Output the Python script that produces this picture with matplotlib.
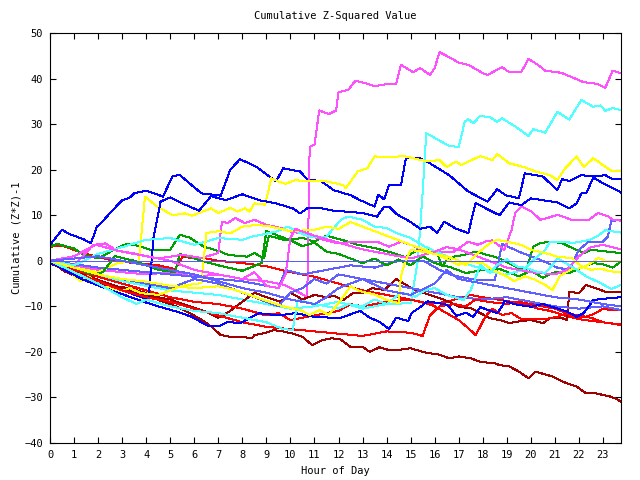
import matplotlib
matplotlib.use("Agg")
import matplotlib.pyplot as plt

# each series: (hour, cumulative value) vertices
mag1 = [(0, 0), (1, -1), (2, -2), (3, -2.5), (4, -3), (5, -2.5), (6, -3.5), (7, -3), (8, -4),
        (9, -4.5), (9.75, -5.3), (10.7, -7.9), (10.8, 25), (11.0, 25.5), (11.2, 33), (11.6, 32.2),
        (11.9, 33), (12.0, 37), (12.4, 37.5), (12.7, 39.5), (13.1, 39), (13.5, 38.3), (14.0, 38.8),
        (14.4, 38.9), (14.6, 43), (15.1, 41.4), (15.4, 42.3), (15.8, 40.8), (16.0, 42.3), (16.2, 45.8),
        (16.6, 44.7), (17.0, 43.5), (17.4, 43), (18.0, 41.2), (18.2, 40.8), (18.8, 42.5), (19.1, 41.4),
        (19.6, 41.4), (19.9, 44.3), (20.3, 43), (20.6, 41.7), (21.1, 41.4), (21.3, 41.2), (21.8, 40.1),
        (22.2, 39.2), (22.6, 39), (22.8, 38.7), (23.1, 38), (23.4, 41.7), (23.75, 41.2)]
cyan1 = [(0, 0), (1, -1.5), (2, -3), (3, -4.5), (4, -5.5), (5, -6.5), (6, -7), (7, -7.5), (8, -8.5),
         (9, -9.5), (10, -10.5), (11, -10), (12, -9), (13, -10.5), (14, -9.5), (15.0, -9.3), (15.3, 0),
         (15.5, 15), (15.65, 28), (16.6, 25.2), (17.0, 25), (17.25, 30.5), (17.4, 31.1), (17.6, 30.2),
         (17.9, 31.8), (18.3, 31.5), (18.6, 30.5), (18.8, 31.3), (19.4, 29.3), (19.9, 27.4), (20.1, 28.9),
         (20.6, 28.1), (21.1, 32.7), (21.6, 31), (22.1, 35.3), (22.6, 33.8), (22.9, 34.1), (23.1, 32.9),
         (23.4, 33.5), (23.75, 33.1)]
yel1 = [(0, 0), (1, -1.5), (2, -2.5), (2.8, -0.5), (3.7, 0), (3.95, 14.1), (4.4, 12.1), (5.1, 10),
        (5.6, 10.4), (5.9, 9.9), (6.7, 11.5), (7.0, 10.5), (7.5, 11.6), (7.8, 10.8), (8.1, 11.5),
        (8.3, 10.8), (8.5, 12.6), (8.95, 12.3), (9.2, 18.1), (9.5, 17.4), (9.8, 16.9), (10.2, 17.7),
        (10.6, 17.5), (11.4, 17.5), (11.9, 17), (12.2, 16.6), (12.3, 15.9), (12.8, 19.6), (13.2, 20.3),
        (13.5, 22.9), (14.3, 22.8), (14.7, 23), (15.7, 21.8), (16.2, 22.1), (16.5, 20.6), (16.9, 21.8),
        (17.1, 21), (17.9, 23), (18.4, 22.1), (18.6, 23.4), (19.1, 21.4), (19.7, 20.6), (20.2, 19.6),
        (20.8, 18.8), (21.1, 17.7), (21.4, 20.1), (21.9, 22.9), (22.2, 20.6), (22.6, 22.5), (23.0, 21),
        (23.4, 19.6), (23.75, 19.6)]
blue1 = [(0, 3.5), (0.5, 6.8), (0.8, 5.9), (1.4, 4.7), (1.7, 3.8), (1.95, 7.5), (2.15, 8.4), (2.5, 10.5),
         (3.0, 13.3), (3.3, 13.8), (3.5, 14.8), (4.0, 15.4), (4.7, 14.1), (5.1, 18.6), (5.4, 18.8),
         (6.3, 14.8), (7.1, 14.3), (7.5, 20), (7.9, 22.3), (8.6, 20.6), (9.4, 17.4), (9.7, 20.3),
         (10.4, 19.6), (10.7, 17.9), (11.3, 17.4), (11.8, 15.5), (12.5, 14.4), (12.9, 13.3), (13.5, 11.9),
         (13.65, 14.5), (13.9, 13.5), (14.1, 16.6), (14.6, 16.6), (14.8, 22.5), (15.4, 22.5), (15.8, 21.4),
         (16.6, 18.8), (17.4, 15.2), (18.2, 13), (18.6, 15.7), (18.95, 14.4), (19.5, 13.7), (19.75, 19.2),
         (20.5, 18.5), (21.1, 15.5), (21.3, 17.9), (21.6, 17.5), (22.1, 18.8), (22.6, 18.5), (23.1, 18.8),
         (23.4, 17.9), (23.75, 17.9)]
blue2 = [(0, -0.5), (1, -3), (2, -5), (3, -6.5), (4.1, -8.5), (4.3, 5), (4.45, 9), (4.6, 13), (5.0, 13.9),
         (5.5, 12.6), (6.2, 11), (6.7, 14.2), (7.3, 13.3), (8.0, 14.6), (8.7, 13.3), (9.4, 12.6),
         (10.1, 11.5), (10.4, 10.4), (10.7, 11.5), (11.3, 11.5), (11.8, 11), (13.0, 10.5), (13.6, 9.7),
         (13.9, 11.9), (14.1, 11.9), (14.4, 10.3), (15.0, 8.5), (15.4, 7), (15.8, 7.5), (16.1, 6.1),
         (16.4, 8.6), (16.9, 7), (17.4, 6.1), (17.7, 12.7), (18.2, 11.3), (18.7, 10), (19.1, 12.8),
         (19.6, 12.2), (20.0, 13.7), (20.5, 13.3), (21.1, 12.8), (21.6, 11.5), (21.9, 12.6), (22.1, 14.8),
         (22.3, 14.8), (22.6, 18.3), (23.0, 17), (23.75, 15)]
blue3 = [(0, 0), (0.6, -2), (1.4, -4.2), (2.5, -6.4), (3.9, -9), (4.5, -10), (5.3, -11.2), (5.9, -12.3),
         (6.6, -14.4), (7.0, -14.4), (7.4, -13.4), (7.9, -13.7), (8.3, -12.6), (8.7, -11.5), (9.5, -12),
         (10.2, -11.5), (11, -12.3), (11.7, -12.5), (12.1, -12.5), (12.9, -11), (13.3, -12.5),
         (13.7, -13.4), (14.1, -15), (14.4, -12.5), (14.9, -13.2), (15.05, -11.4), (15.4, -10.2),
         (15.7, -8.9), (16.4, -9.5), (16.6, -10), (16.9, -12.1), (17.3, -11.4), (17.6, -12.3),
         (17.9, -10.2), (18.6, -11.5), (18.8, -10), (18.9, -8.8), (19.3, -9.5), (20.0, -10.1),
         (20.5, -9.5), (21.3, -10.8), (21.6, -11.4), (21.9, -12.3), (22.2, -11.5), (22.6, -8.6),
         (23.3, -8.2), (23.75, -8)]
mag2 = [(0, 0), (1, -1), (1.8, 3.5), (2.3, 3.8), (2.8, 2.2), (3.4, 1.7), (4.5, 0.5), (5.5, 1.3),
        (6.3, 0.6), (7.0, 1.7), (7.15, 8.6), (7.4, 8.3), (7.7, 9.4), (8.1, 8.3), (8.5, 9), (9.0, 7.9),
        (9.6, 7.2), (10.0, 6.4), (10.4, 6.1), (10.9, 5.3), (11.9, 3.9), (13.2, 4.2), (13.6, 4.2),
        (14.1, 3.1), (14.6, 4.2), (15.2, 3.1), (15.7, 1.7), (16.8, 2), (17.4, 4.2), (17.8, 3.5),
        (18.1, 4.2), (18.4, 4.5), (18.9, 2.4), (19.2, 6.8), (19.35, 10.5), (19.6, 11.9), (20.0, 10.9),
        (20.4, 9), (20.7, 9.4), (21.1, 10.1), (21.7, 9), (22.4, 8.9), (22.8, 10.5), (23.2, 9.8),
        (23.4, 9), (23.75, 8.8)]
mag3 = [(0, 0), (1, 1), (1.9, 3.5), (3, 2), (4, 1), (5, 0), (6, -2), (7, -3), (8, -4), (8.5, -2.5),
        (9, -5.5), (9.5, -6), (9.8, -3), (10.0, 5), (10.2, 7), (11, 5.5), (12, 4), (13, 2.5), (14, 1.5),
        (15, 0.5), (16, 2), (16.5, 3), (17, 2.5), (18, 0.5), (18.5, -0.5), (19, -1.5), (20, -2.5),
        (21, -3), (21.5, -2), (22, 1), (22.5, 3), (23, 3.5), (23.75, 2.5)]
slate1 = [(0, 0), (2, -1.5), (4, -2.5), (6, -3.5), (8, -4.5), (9.5, -6), (9.8, -2), (10.5, -3),
          (11.5, -2), (12.5, -1), (13.5, -1.5), (14.5, 0), (15.5, 0), (15.7, -0.5), (16.2, -2),
          (16.7, -3.1), (17.3, -3.8), (17.8, -4.2), (18.5, -4.2), (18.8, 3.7), (19.5, 2), (20.4, 0.2),
          (21.1, -1.5), (21.6, -2), (22.0, 2.4), (22.4, 4.2), (23.0, 4.2), (23.2, 5.3), (23.35, 8.8),
          (23.75, 8.9)]
slate2 = [(0, 0), (1, -1.5), (2, -3), (3, -4), (4, -5), (5, -6), (6, -4), (7, -5), (8, -7), (9, -9),
          (9.5, -10), (10, -7), (10.5, -6), (11, -4), (11.5, -5), (12, -3), (13, -4), (14, -5), (15, -6),
          (16, -7), (17, -8), (18, -8.5), (19, -8), (20, -9), (21, -10), (22, -10.5), (23, -10),
          (23.75, -10.8)]
slate3 = [(0, 0), (1, 0.5), (2, 1), (3, 0), (4, -1), (5, -2), (6, -3), (7, -4.5), (8, -6), (9, -7),
          (10, -8.5), (11, -9.5), (11.5, -8), (12, -6), (13, -4), (14, -6.5), (14.5, -7), (15, -7.5),
          (16, -5), (16.5, -2), (17, -4), (18, -5), (19, -6), (20, -7), (21, -8), (22, -8.5), (23, -9.5),
          (23.75, -10)]
cyan2 = [(0, 0), (1, -1), (2, 1.5), (3, 3), (4, 4.6), (5, 5), (6, 3.5), (7, 5), (8, 4.6), (8.4, 5.3),
         (9.4, 6.4), (9.9, 7.5), (10.4, 6.1), (10.8, 5.3), (11.5, 5.3), (12.1, 9), (12.4, 9.7), (13.0, 9),
         (13.5, 7.5), (14.0, 7.2), (14.4, 6.1), (15.0, 5), (15.6, 3.1), (16.5, 1), (17.5, -1),
         (18.9, -3.1), (19.7, -2), (20.2, 0.6), (20.6, 2.4), (20.8, 4.2), (21.4, 4.2), (21.7, 3.9),
         (22.1, 4.2), (22.5, 4.7), (22.8, 5.5), (23.1, 6.7), (23.75, 6.2)]
cyan3 = [(0, 0), (1, -2.5), (2, -5), (3, -8), (3.6, -9.5), (4, -8.5), (5, -10), (6, -11), (7, -11.5),
         (8, -12.5), (9, -13.5), (9.7, -15), (10.1, -15.2), (10.3, -8.6), (11, -9.5), (12, -10.5),
         (12.4, -9.5), (13, -10), (13.5, -8.5), (14, -9.5), (14.6, -7), (15.2, -7.9), (15.6, -6.4),
         (16.0, -6), (16.5, -7.5), (17.2, -8.6), (17.5, -6.4), (17.9, -0.9), (18.3, -2.7), (18.6, -0.9),
         (19.0, 0.3), (19.4, -1.2), (19.8, -1.6), (20.2, -2.3), (20.6, -2.7), (20.9, -0.9), (21.1, 0.6),
         (21.8, -1.6), (22.3, -3.4), (22.9, -4.9), (23.35, -6.2), (23.75, -5.3)]
green1 = [(0, 3.1), (0.3, 3.7), (1.0, 2.7), (1.4, 1.3), (2.0, 0.5), (2.9, 3.1), (3.2, 3.7), (3.5, 3.5),
          (4.2, 2.4), (5.0, 2.4), (5.4, 5.7), (5.8, 5.1), (6.4, 3.1), (7.1, 2), (7.4, 1.3), (8.2, 0.9),
          (8.5, 1.7), (8.9, 0.5), (9.1, 5.5), (9.8, 4.5), (10.5, 5), (11.0, 4.2), (11.5, 5.5),
          (12.2, 4.5), (12.8, 3.5), (13.5, 2.8), (14.2, 1.8), (14.8, 0.8), (15.3, 2.4), (15.7, 2.4),
          (16.1, 1.8), (16.3, -1.2), (16.5, 0.1), (16.8, 0.9), (17.4, 1.5), (17.7, 2), (18.6, 0.7),
          (19.1, -0.5), (19.5, -1.6), (19.8, -2.3), (20.1, 3.1), (20.4, 3.9), (20.8, 4.2), (21.3, 3.9),
          (21.6, 3.1), (22.2, 1.7), (22.5, 2.4), (23.75, 1.7)]
green2 = [(0, 0), (1, -1.5), (1.8, -3), (2.2, -2.5), (2.7, 1), (3.5, 0), (4.5, -2), (5.2, -2.5),
          (5.4, 1.5), (6.3, 0), (7, -1), (8, -2.2), (8.8, -0.5), (9.0, 6.5), (9.4, 5.7), (10.0, 4.5),
          (10.5, 3.2), (11, 4), (11.5, 2), (12, 1.5), (12.5, 0.5), (13, -0.5), (13.5, 0.5), (14.0, -1),
          (14.5, 0.3), (15, -1), (15.5, 1), (16, -0.5), (16.7, -1.5), (17.3, -2.7), (18, -2),
          (18.7, -1.8), (19.5, -3.4), (20, -2.2), (20.5, -3.7), (21, -2.5), (21.6, -2.7), (22.1, -1.5),
          (22.6, -0.5), (23.0, -0.8), (23.4, -1.5), (23.75, -0.2)]
yel2 = [(0, 0), (0.6, -1.2), (1.0, -3.4), (1.3, -4.5), (1.6, -3.4), (2.1, -5.6), (2.6, -6), (3.0, -6.7),
        (3.3, -6), (3.8, -7.1), (4.5, -7.5), (5.5, -5.5), (6.3, -4.9), (6.5, 6.1), (7.0, 6.5), (7.5, 6.0),
        (8, 7.5), (8.6, 7.9), (9.2, 7.5), (10, 6.5), (11, 6.8), (11.5, 7.5), (12, 7), (12.5, 8.5),
        (13, 7.5), (13.5, 6.5), (14, 5.5), (14.5, 4.5), (15, 3.5), (15.6, 2.4), (16.0, 1.7), (16.4, 0.6),
        (17.0, -0.9), (17.4, -0.2), (18.0, -0.5), (18.4, -2), (19.0, -3.4), (19.3, -4.5), (19.75, -3.4),
        (20.2, -4.2), (20.6, -5.3), (20.9, -6.4), (21.2, -3.4), (21.6, -2), (22.1, -1.6), (22.5, -0.5),
        (22.8, 0.6), (23.15, -0.1), (23.75, -0.1)]
yel3 = [(0, 0), (1, -1.5), (2, -3), (3, -4), (4, -4.6), (5, -5.5), (6, -6), (7, -5.6), (7.7, -6.4),
        (8.9, -8.6), (9.7, -10), (10.4, -10.8), (10.8, -11.9), (11.2, -10.8), (11.6, -11.9),
        (12.1, -8.6), (12.5, -5.6), (12.9, -6.7), (13.5, -7.4), (14.0, -8.6), (14.5, -9.3), (14.6, -3.4),
        (14.75, -0.5), (15.0, 2.4), (15.5, 2), (16.0, 1.5), (16.5, 1), (17.0, 0), (17.3, -1), (17.8, 1.7),
        (18.3, 3.9), (18.6, 4.6), (19.0, 4.2), (19.6, 3.5), (20.0, 2.4), (20.6, 1.7), (21.1, 0.9),
        (21.7, 0.6), (22.1, -1.2), (22.5, -2), (22.9, -1.7), (23.3, -2.3), (23.75, -2.6)]
dred1 = [(0, 0), (1, -2), (2, -4.2), (3, -6), (4, -7.5), (5, -8.5), (5.8, -10), (6.4, -11), (7, -12.5),
         (7.5, -11), (8, -9), (8.5, -7), (9, -8), (9.6, -9), (10, -7), (10.5, -8.5), (11, -7.5),
         (11.5, -8), (11.8, -7.7), (12.2, -8.6), (12.6, -7.1), (13, -7.1), (13.4, -6), (13.9, -6.4),
         (14.4, -4), (14.8, -5.3), (15.2, -6.4), (15.8, -7.5), (16.2, -8.2), (16.6, -9), (17.0, -10.1),
         (17.5, -10.4), (17.9, -11.5), (18.3, -12.6), (18.7, -13), (19.1, -13.7), (19.5, -13.3),
         (20, -13), (20.5, -13.7), (20.8, -12.6), (21.3, -12.6), (21.5, -13), (21.6, -6.8), (22.0, -7.1),
         (22.3, -5.3), (22.7, -6), (23.1, -6.8), (23.75, -6.8)]
dred2 = [(0, 0), (0.6, -2.3), (1.4, -4.2), (2.3, -5.3), (3.3, -6), (4.0, -7.1), (4.5, -8.6),
         (5.3, -10.1), (6.2, -12.6), (6.7, -14.4), (7.1, -16.3), (7.5, -16.7), (8.0, -16.7), (8.4, -17),
         (8.5, -16.3), (8.9, -15.9), (9.3, -15.2), (9.7, -15.5), (10.1, -16), (10.5, -16.7),
         (10.9, -18.5), (11.3, -17.5), (11.7, -17), (12.1, -17.3), (12.5, -18.9), (13.0, -18.9),
         (13.3, -20), (13.7, -19), (14.1, -19.6), (14.6, -19.5), (15.0, -19.2), (15.5, -20),
         (15.8, -20.3), (16.2, -20.6), (16.6, -21.4), (17.0, -21), (17.5, -21.4), (17.9, -22.2),
         (18.5, -22.5), (18.7, -22.9), (19.1, -23.2), (19.5, -24.3), (19.9, -25.8), (20.2, -24.3),
         (20.5, -24.8), (20.9, -25.4), (21.3, -26.5), (21.9, -27.6), (22.3, -29.1), (22.7, -29.1),
         (23.3, -29.8), (23.5, -30.2), (23.75, -30.9)]
red1 = [(0, 3.1), (0.5, 3.3), (1.5, 1.5), (2.5, 0.2), (3.5, -0.5), (4.5, -1), (5.2, -1.8), (5.5, 0.8),
        (6.5, 0.5), (7, 0), (8, -0.5), (9, -1.2), (10, -2.5), (11, -3.5), (12, -5), (13, -6.5),
        (14, -7.5), (15, -8.5), (15.8, -9.5), (16.5, -9), (17.1, -8.1), (17.5, -7.5), (18.0, -8),
        (18.6, -8.5), (19.2, -9), (19.7, -9.5), (20.3, -10.5), (20.8, -11), (21.4, -12), (22, -12.8),
        (22.5, -13.2), (23, -13.5), (23.75, -14.1)]
red2 = [(0, 0), (1, -2), (2, -3.5), (3, -5), (4, -6.5), (5, -8), (6, -9), (7, -9.5), (8, -10.5),
        (9, -12), (9.5, -11.5), (10, -13), (11, -12), (12, -11), (12.5, -9.5), (13, -10), (14, -9),
        (15, -8.5), (15.6, -9.3), (16, -10), (16.4, -11.2), (17, -13), (17.4, -14.8), (17.7, -16.3),
        (17.9, -14.4), (18.1, -12.3), (18.4, -10.5), (18.8, -11.9), (19.2, -11.5), (19.6, -12.8),
        (20.0, -12.8), (20.6, -12.8), (21.1, -12.3), (21.5, -11.5), (21.8, -12.6), (22.3, -12.3),
        (22.7, -11.5), (23.0, -10.5), (23.4, -10.9), (23.75, -10.8)]
red3 = [(0, 0), (1, -2.5), (2, -4.5), (3, -6.5), (4, -8), (5, -9), (6, -10.5), (7, -12), (8, -13.5),
        (9, -14.5), (10, -15), (11, -15.5), (12, -16), (13, -16.5), (14, -15.5), (15, -15.8),
        (15.5, -16.5), (15.8, -12), (16.2, -10), (16.8, -9.5), (17.3, -10), (17.7, -8.5), (18.2, -9),
        (19, -9.5), (19.5, -9), (20, -9.5), (20.5, -10), (21, -10.5), (21.5, -11.5), (22, -12),
        (22.5, -12.5), (23, -13.5), (23.75, -14)]
zero_line = [(0, 0), (23.75, 0)]

series = [
    (red1, "#ff0000"), (green1, "#00a000"), (blue1, "#0000ff"), (mag1, "#ff50ff"),
    (cyan1, "#50ffff"), (dred1, "#a00000"), (yel1, "#ffff00"), (slate1, "#6060ff"),
    (red2, "#ff0000"), (green2, "#00a000"), (blue2, "#0000ff"), (mag2, "#ff50ff"),
    (cyan2, "#50ffff"), (dred2, "#a00000"), (yel2, "#ffff00"), (slate2, "#6060ff"),
    (red3, "#ff0000"), (blue3, "#0000ff"), (mag3, "#ff50ff"), (cyan3, "#50ffff"),
    (yel3, "#ffff00"), (slate3, "#6060ff"), (zero_line, "#5a5aff"),
]

plt.rcParams['font.family'] = ['DejaVu Sans Mono']

fig = plt.figure(figsize=(6.4, 4.8), dpi=100)
ax = fig.add_axes([50 / 640, 37 / 480, 571 / 640, 410 / 480])

for pts, col in series:
    xs = [p[0] for p in pts]
    ys = [p[1] for p in pts]
    ax.plot(xs, ys, color=col, lw=0.72, antialiased=False)

ax.set_xlim(0, 23.75)
ax.set_ylim(-40, 50)
ax.set_xticks(range(0, 24))
ax.set_yticks(range(-40, 51, 10))
ax.tick_params(direction="in", length=4, width=0.8, top=True, right=True, labelsize=7.5, pad=5)
for s in ax.spines.values():
    s.set_linewidth(0.8)

ax.set_title("Cumulative Z-Squared Value", fontsize=7.5, pad=10)
ax.set_xlabel("Hour of Day", fontsize=7.5, labelpad=4)
ax.set_ylabel("Cumulative (Z*Z)-1", fontsize=7.5, labelpad=2)

fig.savefig("out.png", dpi=100)
